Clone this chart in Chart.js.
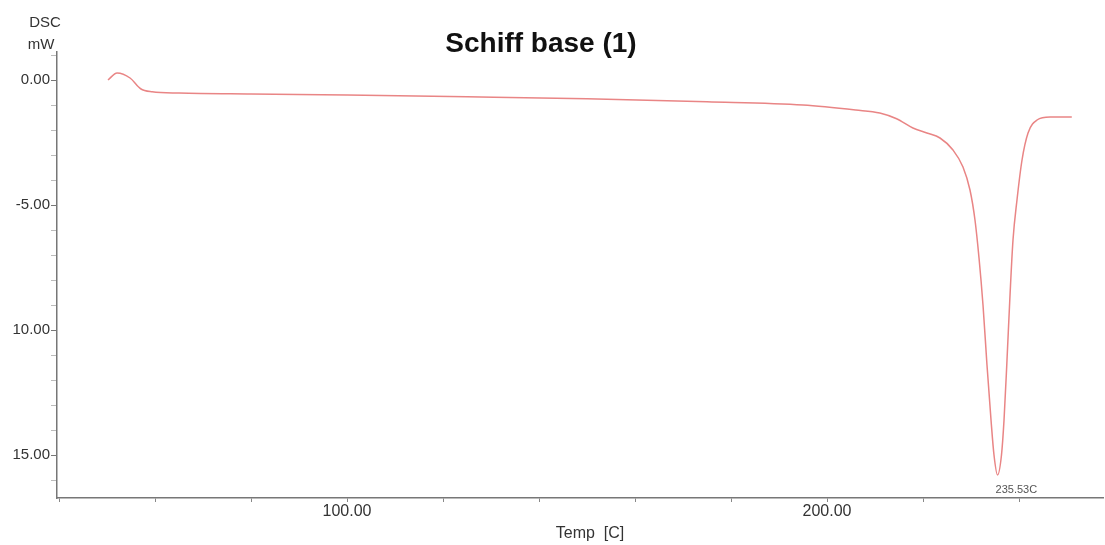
<!DOCTYPE html>
<html>
<head>
<meta charset="utf-8">
<script src="https://cdn.jsdelivr.net/npm/chart.js@4.4.1/dist/chart.umd.min.js"></script>
<style>
  html, body { margin: 0; padding: 0; background: #fff; }
  #wrap { width: 1105px; height: 545px; }
</style>
</head>
<body>
<div id="wrap"><canvas id="c" width="1105" height="545"></canvas></div>
<script>
// ---- data ----
const temps = [50.2, 52.1, 54.8, 57.0, 59.4, 65, 80, 100, 125, 150, 175, 195, 206, 211, 214.5, 217.9, 220.8, 223.54, 226.25, 228.33, 229.79, 230.83, 231.67, 232.5, 233.33, 234.17, 234.79, 235.53, 236.35, 236.88, 237.5, 238.13, 238.75, 239.58, 240.63, 241.88, 243.75, 246.46, 251];
const dsc   = [0.0, 0.28, 0.08, -0.35, -0.47, -0.52, -0.56, -0.6, -0.67, -0.75, -0.87, -1.0, -1.2, -1.32, -1.55, -1.92, -2.12, -2.32, -2.8, -3.48, -4.4, -5.6, -7.12, -9.0, -11.4, -13.6, -15.0, -15.8, -15.0, -13.6, -11.2, -8.6, -6.4, -4.8, -3.2, -2.12, -1.6, -1.48, -1.48];
const xTickValues = [40, 60, 80, 100, 120, 140, 160, 180, 200, 220, 240];
const xTickLabels = { 100: "100.00", 200: "200.00" };
const yTickValues = [1, 0, -1, -2, -3, -4, -5, -6, -7, -8, -9, -10, -11, -12, -13, -14, -15, -16];
const yTickLabels = { "0": "0.00", "-5": "-5.00", "-10": "10.00", "-15": "15.00" };
const peakTemp = 235.53;
const peakValue = -15.8;
const peakLabel = "235.53C";
const titleText = "Schiff base (1)";
const yTitleLines = ["DSC", "mW"];
const xTitleText = "Temp  [C]";

const points = temps.map((t, i) => ({ x: t, y: dsc[i] }));

const textPlugin = {
  id: 'texts',
  afterDraw(chart) {
    const ctx = chart.ctx;
    const xs = chart.scales.x, ys = chart.scales.y;
    ctx.save();
    // title
    ctx.fillStyle = '#111';
    ctx.font = 'bold 28px "Liberation Sans", Arial, sans-serif';
    ctx.textAlign = 'center';
    ctx.textBaseline = 'alphabetic';
    ctx.fillText(titleText, 541, 52);
    // y title
    ctx.fillStyle = '#333';
    ctx.font = '15px "Liberation Sans", Arial, sans-serif';
    ctx.textAlign = 'center';
    ctx.fillText(yTitleLines[0], 45, 27);
    ctx.fillText(yTitleLines[1], 41, 49);
    // x title
    ctx.font = '16px "Liberation Sans", Arial, sans-serif';
    ctx.fillText(xTitleText, 590, 538);
    // peak label
    ctx.fillStyle = '#555';
    ctx.font = '11px "Liberation Sans", Arial, sans-serif';
    ctx.textAlign = 'left';
    ctx.fillText(peakLabel, xs.getPixelForValue(peakTemp) - 2, ys.getPixelForValue(peakValue) + 18);
    ctx.restore();
  }
};

new Chart(document.getElementById('c'), {
  type: 'line',
  data: {
    datasets: [{
      data: points,
      borderColor: '#e98585',
      borderWidth: 1.5,
      pointRadius: 0,
      fill: false,
      tension: 0.4,
      cubicInterpolationMode: 'monotone'
    }]
  },
  options: {
    responsive: false,
    animation: false,
    devicePixelRatio: 1,
    layout: { padding: { left: 0, right: 2, top: 52, bottom: 0 } },
    plugins: { legend: { display: false }, tooltip: { enabled: false }, title: { display: false } },
    scales: {
      x: {
        type: 'linear',
        min: 39.58,
        max: 257.5,
        afterBuildTicks: s => { s.ticks = xTickValues.map(v => ({ value: v })); },
        afterFit: s => { s.height = 47; },
        ticks: {
          autoSkip: false,
          maxRotation: 0,
          padding: 0,
          color: '#333',
          font: { family: '"Liberation Sans", Arial, sans-serif', size: 16 },
          callback: v => xTickLabels[v] || ''
        },
        grid: { drawOnChartArea: false, drawTicks: true, tickLength: 4, tickColor: '#888' },
        border: { display: true, color: '#777', width: 1.5 }
      },
      y: {
        type: 'linear',
        min: -16.72,
        max: 1.12,
        afterBuildTicks: s => { s.ticks = yTickValues.map(v => ({ value: v })); },
        afterFit: s => { s.width = 57; },
        ticks: {
          autoSkip: false,
          padding: 1,
          color: '#333',
          font: { family: '"Liberation Sans", Arial, sans-serif', size: 15 },
          callback: v => yTickLabels[String(v)] || ''
        },
        grid: {
          drawOnChartArea: false, drawTicks: true, tickLength: 6,
          tickColor: ctx => (ctx.tick && ctx.tick.value % 5 === 0) ? '#777' : '#bbb'
        },
        border: { display: true, color: '#777', width: 1.5 }
      }
    }
  },
  plugins: [textPlugin]
});
</script>
</body>
</html>
